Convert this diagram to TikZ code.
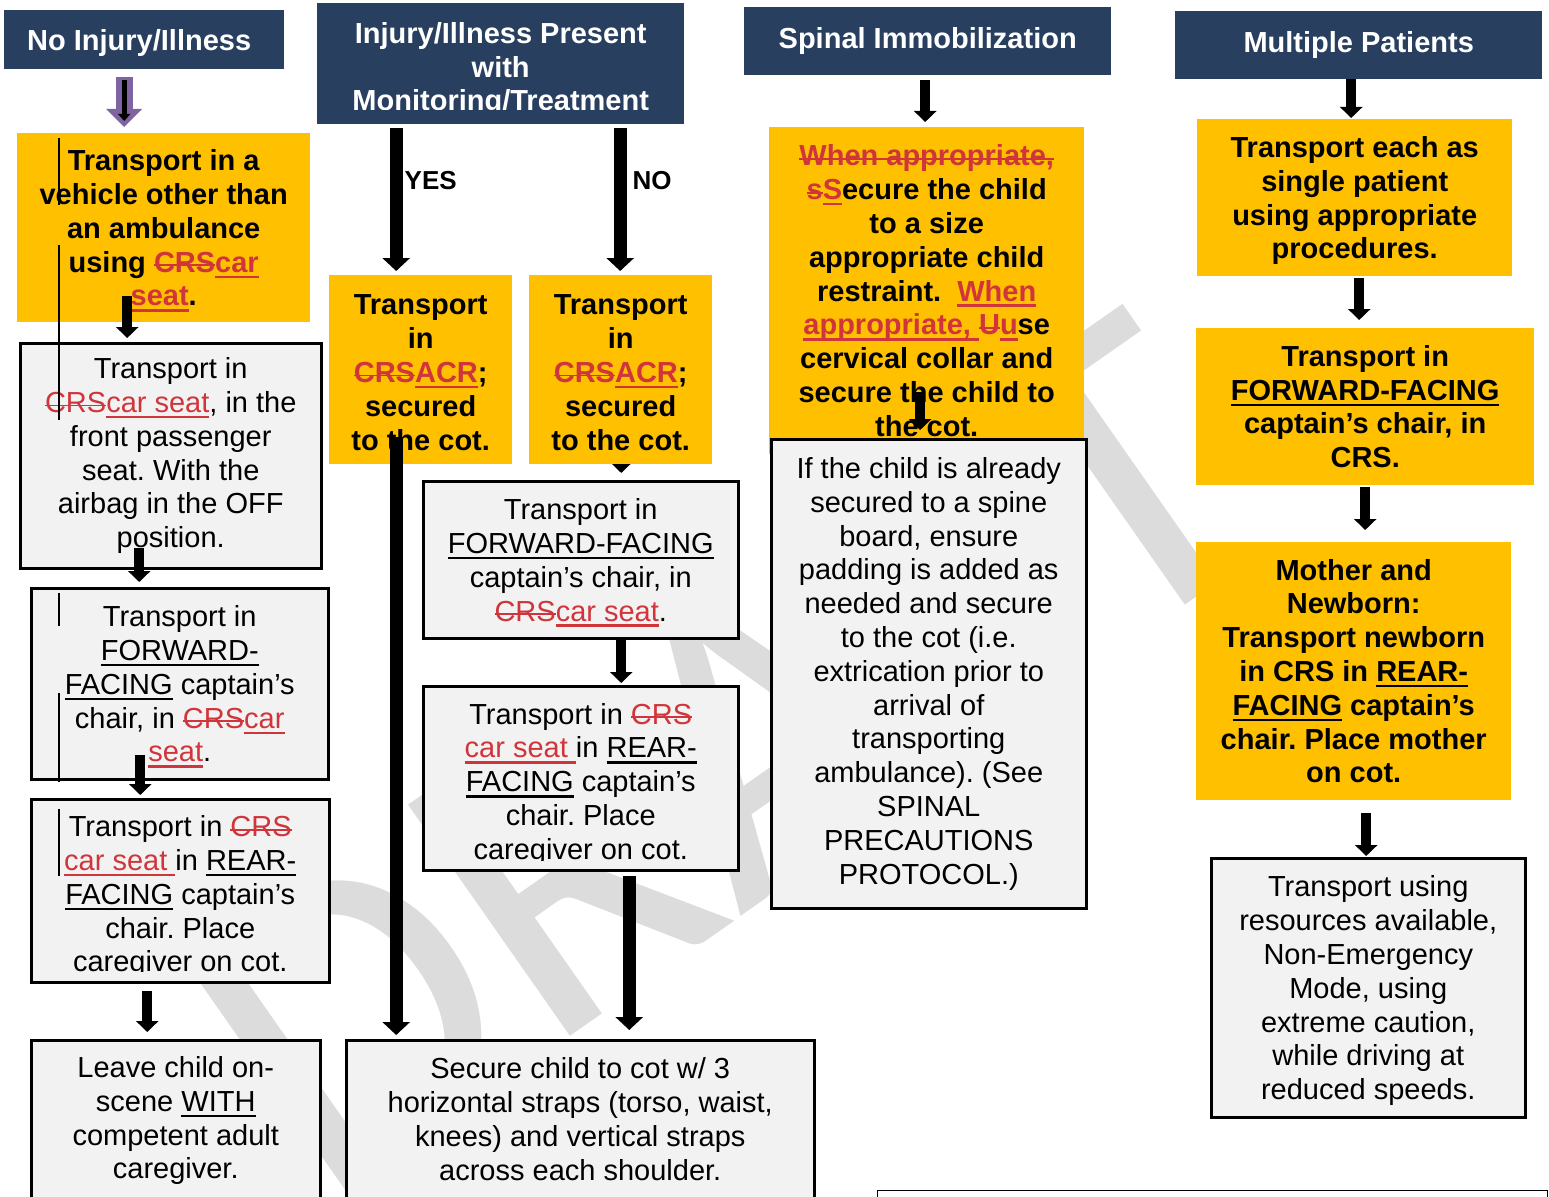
\documentclass[tikz,border=0pt]{standalone}
\usepackage{fontspec}
\setmainfont{Liberation Sans}
\newfontfamily\wmfont{Carlito}
\usetikzlibrary{arrows.meta}
\frenchspacing

\definecolor{hdrblue}{HTML}{283F60}
\definecolor{boxyellow}{HTML}{FFC000}
\definecolor{boxgray}{HTML}{F2F2F2}
\definecolor{revred}{HTML}{D0353B}
\definecolor{arrowpurple}{HTML}{8064A2}
\definecolor{wmgray}{HTML}{DCDCDC}

% tracked changes: struck out, inserted, plain underline
\newsavebox\revbox
\newcommand\revdel[1]{{\color{revred}\sbox\revbox{#1}\rlap{\rule[0.21em]{\wd\revbox}{1.8pt}}\usebox\revbox}}
\newcommand\revins[1]{{\color{revred}\sbox\revbox{#1}\rlap{\rule[-0.2em]{\wd\revbox}{2.4pt}}\usebox\revbox}}
\newcommand\undl[1]{\sbox\revbox{#1}\rlap{\rule[-0.2em]{\wd\revbox}{2.4pt}}\usebox\revbox}
% taller first line, pushes the text down a little
\newcommand\lift[1]{\rule{0pt}{#1pt}}

\begin{document}
\begin{tikzpicture}[x=1pt, y=-1pt,
	hdr/.style={fill=hdrblue, text=white, font=\bfseries\fontsize{29}{33.8}\selectfont,
		align=center, anchor=north west, inner sep=0pt},
	ybox/.style={fill=boxyellow, font=\bfseries\fontsize{29}{33.8}\selectfont,
		align=center, anchor=north west, inner sep=0pt},
	gbox/.style={fill=boxgray, draw=black, line width=2.5pt, font=\fontsize{29}{33.8}\selectfont,
		align=center, anchor=north west, inner sep=0pt},
	flow/.style={line width=10pt, -{Triangle[width=22pt,length=11pt]}},
	bigflow/.style={line width=13pt, -{Triangle[width=27pt,length=13pt]}},
	lbl/.style={font=\bfseries\fontsize{26}{30}\selectfont, inner sep=0pt},
	wm/.style={text=wmgray, font=\wmfont\fontsize{440}{440}\selectfont, rotate=35, inner sep=0pt},
	revbar/.style={line width=1.5pt}]
	\useasboundingbox (0,0) rectangle (1549,1196);

	\node[wm] (WM) at (725,755) {DRAFT};

	% headers
	\node[hdr, minimum width=280pt, minimum height=59pt] (H1) at (4,10) {\lift{27}No Injury/Illness\hspace*{10pt}};
	\node[hdr, minimum width=367pt, minimum height=121pt] (H2) at (317,3)
		{\lift{33}Injury/Illness Present\\with\\Monitoring/Treatment};
	\fill[hdrblue] ([yshift=14pt]H2.south west) rectangle (H2.south east);
	\node[hdr, minimum width=367pt, minimum height=68pt] (H3) at (744,7) {Spinal Immobilization};
	\node[hdr, minimum width=367pt, minimum height=68pt] (H4) at (1175,11) {Multiple Patients};

	% no injury
	\node[ybox, minimum width=293pt, minimum height=189pt] (Y1) at (17,133)
		{\lift{27}Transport in a\\vehicle other than\\an ambulance\\using \revdel{CRS}\revins{car}\\\revins{seat}.};
	\node[gbox, minimum width=301pt, minimum height=225pt] (G1) at (19,342)
		{Transport in\\\revdel{CRS}\revins{car seat}, in the\\front passenger\\seat. With the\\airbag in the OFF\\position.};
	\node[gbox, minimum width=297pt, minimum height=191pt] (G2) at (30,587)
		{\lift{27}Transport in\\\undl{FORWARD-}\\\undl{FACING} captain’s\\chair, in \revdel{CRS}\revins{car}\\\revins{seat}.};
	\node[gbox, minimum width=298pt, minimum height=183pt] (G3) at (30,798)
		{\lift{33}Transport in \revdel{CRS}\\\revins{car seat }in \undl{REAR-}\\\undl{FACING} captain’s\\chair. Place\\caregiver on cot.};
	\fill[boxgray] ([xshift=5pt,yshift=12pt]G3.south west) rectangle ([xshift=-5pt,yshift=2.2pt]G3.south east);
	\node[gbox, minimum width=289pt, minimum height=161pt] (G4) at (30,1039)
		{Leave child on-\\scene \undl{WITH}\\competent adult\\caregiver.};

	% injury present
	\node[ybox, minimum width=183pt, minimum height=189pt] (Y2) at (329,275)
		{\lift{26}Transport\\in\\\revdel{CRS}\revins{ACR};\\secured\\to the cot.};
	\node[gbox, minimum width=315pt, minimum height=157pt] (G5) at (422,480)
		{\lift{27}Transport in\\\undl{FORWARD-FACING}\\captain’s chair, in\\\revdel{CRS}\revins{car seat}.};
	\draw[flow, shorten >=7pt] ([xshift=40.5pt,yshift=30pt]G5.north) -- ([xshift=40.5pt]G5.north);
	\node[ybox, minimum width=183pt, minimum height=189pt] (Y3) at (529,275)
		{\lift{26}Transport\\in\\\revdel{CRS}\revins{ACR};\\secured\\to the cot.};
	\node[gbox, minimum width=315pt, minimum height=184pt] (G6) at (422,685)
		{\lift{33}Transport in \revdel{CRS}\\\revins{car seat }in \undl{REAR-}\\\undl{FACING} captain’s\\chair. Place\\caregiver on cot.};
	\fill[boxgray] ([xshift=5pt,yshift=11pt]G6.south west) rectangle ([xshift=-5pt,yshift=2.2pt]G6.south east);
	\node[gbox, minimum width=468pt, minimum height=158pt] (G7) at (345,1039)
		{Secure child to cot w/ 3\\horizontal straps (torso, waist,\\knees) and vertical straps\\across each shoulder.};

	% spinal
	\node[ybox, minimum width=315pt, minimum height=327pt] (Y4) at (769,127)
		{\revdel{When appropriate,}\\\revdel{s}\revins{S}ecure the child\\to a size\\appropriate child\\restraint.\ \ \revins{When}\\\revins{appropriate, }\revdel{U}\revins{u}se\\cervical collar and\\secure the child to\\the cot.};
	\node[gbox, minimum width=315pt, minimum height=469pt] (G8) at (770,438)
		{If the child is already\\secured to a spine\\board, ensure\\padding is added as\\needed and secure\\to the cot (i.e.\\extrication prior to\\arrival of\\transporting\\ambulance). (See\\SPINAL\\PRECAUTIONS\\PROTOCOL.)};

	% multiple
	\node[ybox, minimum width=315pt, minimum height=157pt] (Y5) at (1197,119)
		{\lift{27}Transport each as\\single patient\\using appropriate\\procedures.};
	\node[ybox, minimum width=338pt, minimum height=157pt] (Y6) at (1196,328)
		{Transport in\\\undl{FORWARD-FACING}\\captain’s chair, in\\CRS.};
	\node[ybox, minimum width=315pt, minimum height=258pt] (Y7) at (1196,542)
		{Mother and\\Newborn:\\Transport newborn\\in CRS in \undl{REAR-}\\\undl{FACING} captain’s\\chair. Place mother\\on cot.};
	\node[gbox, minimum width=314pt, minimum height=259pt] (G9) at (1210,857)
		{\lift{27}Transport using\\resources available,\\Non-Emergency\\Mode, using\\extreme caution,\\while driving at\\reduced speeds.};

	\node[draw, line width=1pt, minimum width=670pt, minimum height=40pt, anchor=north west, inner sep=0pt] (NB) at (877,1190) {};

	% arrows
	\draw[line width=17pt, arrowpurple, -{Triangle[width=35pt,length=18pt]}, shorten <=8pt, shorten >=6pt]
		([xshift=-20pt]H1.south) -- ([xshift=-20pt]H1.south |- Y1.north);
	\draw[line width=5pt, -{Triangle[width=12pt,length=7pt]}, shorten <=11pt, shorten >=12pt]
		([xshift=-20pt]H1.south) -- ([xshift=-20pt]H1.south |- Y1.north);
	\draw[flow, shorten <=-26pt, shorten >=4pt] ([xshift=-36.5pt]Y1.south) -- ([xshift=-36.5pt]Y1.south |- G1.north);
	\draw[flow, shorten <=-22pt, shorten >=5pt] ([xshift=-31.5pt]G1.south) -- ([xshift=-31.5pt]G1.south |- G2.north);
	\draw[flow, shorten <=-26pt, shorten >=3pt] ([xshift=-39.5pt]G2.south) -- ([xshift=-39.5pt]G2.south |- G3.north);
	\draw[flow, shorten <=7pt, shorten >=7pt] ([xshift=-33pt]G3.south) -- ([xshift=-33pt]G3.south |- G4.north);

	\draw[bigflow, shorten <=4pt, shorten >=4pt] ([xshift=-104.5pt]H2.south)
		-- node[lbl, pos=0.37, right=2pt] {YES} ([xshift=-104.5pt]H2.south |- Y2.north);
	\draw[bigflow, shorten <=4pt, shorten >=4pt] ([xshift=119.5pt]H2.south)
		-- node[lbl, pos=0.37, right=6pt] {NO} ([xshift=119.5pt]H2.south |- Y3.north);
	\draw[bigflow, shorten <=-27pt, shorten >=4pt] ([xshift=-24.5pt]Y2.south) -- ([xshift=-24.5pt]Y2.south |- G7.north);
	\draw[flow, shorten >=2pt] ([xshift=40.5pt]G5.south) -- ([xshift=40.5pt]G5.south |- G6.north);
	\draw[bigflow, shorten <=4pt, shorten >=9pt] ([xshift=48.5pt]G6.south) -- ([xshift=48.5pt]G6.south |- G7.north);

	\draw[flow, shorten <=5pt, shorten >=5pt] ([xshift=-2.5pt]H3.south) -- ([xshift=-2.5pt]H3.south |- Y4.north);
	\draw[flow, shorten <=101.5pt, shorten >=8pt] ([xshift=-6.5pt]Y4.center) -- ([xshift=-6.5pt]Y4.center |- G8.north);

	\draw[flow, shorten >=1pt] ([xshift=-7.5pt]H4.south) -- ([xshift=-7.5pt]H4.south |- Y5.north);
	\draw[flow, shorten <=2pt, shorten >=8pt] ([xshift=4.5pt]Y5.south) -- ([xshift=4.5pt]Y5.south |- Y6.north);
	\draw[flow, shorten <=2pt, shorten >=12pt] (Y6.south) -- (Y6.south |- Y7.north);
	\draw[flow, shorten <=13pt, shorten >=1pt] ([xshift=12.5pt]Y7.south) -- ([xshift=12.5pt]Y7.south |- G9.north);

	% change bars
	\draw[revbar] (59,138) -- (59,205);
	\draw[revbar] (59,245) -- (59,420);
	\draw[revbar] (59,593) -- (59,626);
	\draw[revbar] (59,693) -- (59,782);
	\draw[revbar] (59,809) -- (59,876);
\end{tikzpicture}
\end{document}
